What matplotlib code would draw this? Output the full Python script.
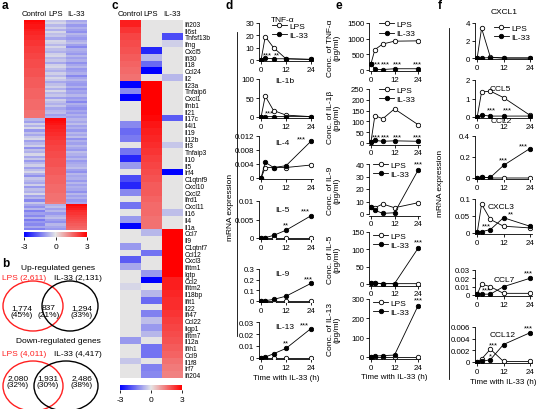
import numpy as np
import matplotlib
matplotlib.use('Agg')
import matplotlib.pyplot as plt
from matplotlib.colors import LinearSegmentedColormap
from matplotlib.patches import Ellipse
from matplotlib.ticker import FuncFormatter

plt.rcParams['font.family'] = ['Liberation Sans', 'DejaVu Sans']
plt.rcParams['axes.unicode_minus'] = False

# ---------------- data ----------------
# panel a: clustered heatmap (rows grouped: control-up, LPS-up, IL-33-up)
a_columns = ['Control', 'LPS', 'IL-33']
a_control = [2.9, 2.8, 2.7, 2.7, 2.6, 2.5, 2.5, 2.4, 2.4, 2.3, 2.3, 2.3, 2.2, 2.2, 2.2,
             2.1, 2.1, 2.1, 2.0, 2.0, 2.0, 2.0, 1.9, 1.9, 1.9, 1.9, 1.8, 1.8, 1.8, 1.8,
             1.8, 1.7, 1.7, 1.7, 1.7, 1.7, 1.6, 1.6, 1.6, 1.6, 1.6, 1.5, 1.5, 1.5, 1.5,
             -0.6, -0.9, -0.3, -0.7, -0.2, -1.0, -0.5, -0.8, -0.4, -0.2, -0.9, -0.6, -0.3, -1.1, -0.5,
             -0.7, -0.2, -0.8, -0.4, -1.0, -0.6, -0.3, -0.9, -0.5, -0.2, -0.7, -1.1, -0.4, -0.6, -0.8,
             -0.3, -1.0, -0.5, -0.7, -0.2, -0.9, -0.6, -1.2, -0.4,
             -0.8, -1.1, -0.6, -1.3, -0.9, -1.2, -0.7, -1.4, -1.0, -1.2, -0.8, -1.3]
a_lps = [-0.4, -0.2, -0.6, -0.3, -0.7, -0.2, -0.5, -0.4, -0.8, -0.2, -0.3, -0.6, -0.2, -0.5, -0.7,
         -0.3, -0.2, -0.6, -0.4, -0.8, -0.3, -0.2, -0.5, -0.7, -0.3, -0.6, -0.2, -0.4, -0.8, -0.5,
         -0.3, -0.7, -0.2, -0.6, -0.4, -0.9, -0.3, -0.5, -0.7, -0.4, -0.8, -0.6, -0.5, -0.9, -0.7,
         2.9, 2.8, 2.7, 2.6, 2.6, 2.5, 2.4, 2.4, 2.3, 2.3, 2.2, 2.2, 2.1, 2.1, 2.1,
         2.0, 2.0, 2.0, 1.9, 1.9, 1.9, 1.9, 1.8, 1.8, 1.8, 1.8, 1.7, 1.7, 1.7, 1.7,
         1.6, 1.6, 1.6, 1.6, 1.5, 1.5, 1.5, 1.5, 1.4,
         -0.7, -0.5, -0.9, -0.6, -1.0, -0.7, -0.5, -0.9, -1.1, -0.6, -0.8, -1.0]
a_il33 = [-0.8, -0.6, -1.0, -0.7, -0.9, -1.1, -0.6, -0.8, -1.0, -0.7, -0.5, -0.9, -1.2, -0.7, -0.8,
          -1.0, -0.6, -0.9, -0.7, -1.1, -0.8, -0.6, -1.0, -0.9, -0.7, -1.2, -0.8, -0.6, -0.9, -1.0,
          -0.7, -1.1, -0.8, -0.9, -0.6, -1.0, -0.8, -1.2, -0.7, -0.9, -1.1, -0.8, -1.0, -0.7, -0.9,
          -0.6, -0.8, -0.5, -0.9, -0.7, -1.0, -0.6, -0.8, -0.5, -1.1, -0.7, -0.9, -0.6, -0.8, -1.0,
          -0.5, -0.7, -0.9, -0.6, -1.0, -0.8, -0.7, -0.5, -0.9, -1.1, -0.6, -0.8, -0.7, -1.0, -0.6,
          -0.9, -0.7, -0.8, -1.1, -0.6, -0.9, -0.7, -1.0, -0.8,
          2.9, 2.7, 2.6, 2.4, 2.3, 2.2, 2.1, 2.0, 1.9, 1.8, 1.7, 1.6]

# panel b: Venn counts
up_totals = [2611, 2131]
up_counts = [1774, 837, 1294]
up_pcts = [45, 21, 33]
down_totals = [4011, 4417]
down_counts = [2080, 1931, 2486]
down_pcts = [32, 30, 38]

# panel c: selected cytokine genes
c_genes = ['Ifi203', 'Il6st', 'Tnfsf13b', 'Ifng', 'Cxcl5', 'Ifi30', 'Il18', 'Ccl24', 'Il2',
           'Il23a', 'Tnfaip6', 'Cxcl1', 'Ifnb1', 'Il21', 'Il17c', 'Il4i1', 'Il19', 'Il12b',
           'Ilf3', 'Tnfaip3', 'Il10', 'Il5', 'Irf4', 'C1qtnf9', 'Cxcl10', 'Cxcl2', 'Ifrd1',
           'Cxcl11', 'Il16', 'Il4', 'Il1a', 'Ccl7', 'Il9', 'C1qtnf7', 'Ccl12', 'Cxcl3',
           'Ifitm1', 'Igtp', 'Ccl2', 'Ifitm2', 'Il18bp', 'Ifit1', 'Il22', 'Ifi47', 'Ccl22',
           'Iigp1', 'Ifitm7', 'Il12a', 'Ifih1', 'Ccl9', 'Il1f8', 'Irf7', 'Ifi204']
c_control = [2.6, 2.3, 2.1, 2.0, 1.9, 1.8, 1.7, 1.6, 1.5,
             -3.0, -1.2, -3.0, 0, 0, 0, -1.2, -1.6, -1.4, 0, -1.5, -2.5, -1.0, 0, -2.0, -2.5,
             -1.2, 0, -1.5, 0, -1.0, -3.0,
             0, 0, -1.0, 0, -1.8, -0.8, 0, 0, -0.2, 0, 0, 0, 0, 0, 0, 0, -1.0, 0, 0, -0.4, 0, 0]
c_lps = [0, 0, 0, 0, -2.5, -0.6, -1.6, -3.0, 0,
         3.0, 3.0, 3.0, 3.0, 3.0, 2.9, 2.7, 2.6, 2.5, 2.4, 2.3, 2.2, 2.1, 2.0, 1.9, 1.8,
         1.8, 1.7, 1.6, 1.6, 1.5, 1.5,
         -0.6, 0, 0, -1.5, 0, 0, -1.0, -3.0, 0, -0.6, -1.6, 0, -1.3, -0.5, -1.0, -0.6, 0,
         -1.5, -1.5, 0, -1.3, -1.2]
c_il33 = [0, 0, -2.0, -0.3, 0, 0, 0, 0, -0.6,
          0, 0, 0, 0, 0, -1.8, 0, 0, 0, -0.4, 0, 0, 0, -3.0, 0, 0, 0, 0, 0, -0.5, 0, 0,
          3.0, 3.0, 3.0, 3.0, 3.0, 3.0, 3.0, 2.6, 2.6, 2.5, 2.4, 2.4, 2.3, 2.2, 2.1, 2.0,
          1.9, 1.8, 1.7, 1.5, 1.4, 1.3]

# panels d-f: time courses (h)
times = [0, 2, 6, 12, 24]

d_tnf_lps = [0, 19, 10, 1, 0.5]
d_tnf_il33 = [0, 1.5, 1, 1, 0.5]
d_il1b_lps = [0, 55, 17, 5, 1]
d_il1b_il33 = [0, 1, 1, 1, 1]
d_il4_lps = [0, 0.003, 0.003, 0.003, 0.0037]
d_il4_il33 = [0, 0.0045, 0.003, 0.0035, 0.0105]
d_il5_lps = [0, 0, 0, 0, 0]
d_il5_il33 = [0, 0.0001, 0.0007, 0.0021, 0.006]
d_il9_lps = [0, 0, 0, 0, 0]
d_il9_il33 = [0, 0.003, 0.015, 0.045, 0.165]
d_il13_lps = [0, 0, 0, 0, 0]
d_il13_il33 = [0, 0.0008, 0.0035, 0.008, 0.0245]

e_tnf_lps = [200, 650, 830, 920, 930]
e_tnf_il33 = [200, 20, 15, 40, 40]
e_il1b_lps = [5, 127, 112, 158, 85]
e_il1b_il33 = [5, 12, 8, 10, 8]
e_il9_lps = [6, 5, 8, 5, 9]
e_il9_il33 = [6, 3, 0.5, 1, 35]
e_il5_lps = [3, 2, 1, 1, 1]
e_il5_il33 = [3, 3, 1, 1, 103]
e_il13_lps = [0, 0, 0, 0, 0]
e_il13_il33 = [2, 5, 7, 10, 265]

f_cxcl1_lps = [0, 3.4, 0.1, 0, 0]
f_cxcl1_il33 = [0, 0, 0.05, 0, 0]
f_ccl5_lps = [0, 1.35, 1.4, 1.05, 0.1]
f_ccl5_il33 = [0, 0.1, 0.05, 0.05, 0.05]
f_ccl2_lps = [0, 0.01, 0, 0, 0]
f_ccl2_il33 = [0, 0.005, 0.005, 0.12, 0.28]
f_cxcl3_lps = [0, 0.085, 0.04, 0.02, 0.015]
f_cxcl3_il33 = [0.002, 0.004, 0.01, 0.045, 0.02]
f_ccl7_lps = [0.001, 0.013, 0.01, 0.002, 0.002]
f_ccl7_il33 = [0.001, 0.001, 0.001, 0.01, 0.02]
f_ccl12_lps = [0, 0.0005, 0.0022, 0.0001, 0.0001]
f_ccl12_il33 = [0, 0.0001, 0.0004, 0.003, 0.005]

# ---------------- figure ----------------
W, H = 536, 410
fig = plt.figure(figsize=(W / 100, H / 100), dpi=100)


def px_axes(x0, y0, x1, y1):
    return fig.add_axes([x0 / W, 1 - y1 / H, (x1 - x0) / W, (y1 - y0) / H])


bg = px_axes(0, 0, W, H)
bg.set_xlim(0, W)
bg.set_ylim(H, 0)
bg.axis('off')

cmap = LinearSegmentedColormap.from_list('bgr', [(0, 0, 1), (0.9, 0.9, 0.9), (1, 0, 0)])


def heatmap(box, cols, cbar_box, labels=None):
    ax = px_axes(*box)
    mat = np.column_stack(cols)
    im = ax.imshow(mat, cmap=cmap, vmin=-3, vmax=3, aspect='auto', interpolation='nearest')
    ax.set_xticks(range(3))
    ax.set_xticklabels(a_columns, fontsize=5.6)
    ax.xaxis.tick_top()
    ax.tick_params(axis='x', length=0, pad=2)
    if labels is None:
        ax.set_yticks([])
    else:
        ax.set_yticks(range(len(labels)))
        ax.set_yticklabels(labels, fontsize=4.8)
        ax.yaxis.tick_right()
        ax.tick_params(axis='y', length=0, pad=2)
    for s in ax.spines.values():
        s.set_visible(False)
    cax = px_axes(*cbar_box)
    cb = fig.colorbar(im, cax=cax, orientation='horizontal', ticks=[-3, 0, 3])
    cb.outline.set_visible(False)
    cax.tick_params(labelsize=6, length=2, width=0.6, pad=2)
    return ax


heatmap((24, 21, 87, 231), [a_control, a_lps, a_il33], (24, 233, 87, 238))
heatmap((120, 21, 182, 379), [c_control, c_lps, c_il33], (120, 386, 182, 391), c_genes)

# panel labels
for lab, x, y in [('a', 2, 0), ('b', 2, 258), ('c', 111, 0), ('d', 226, 0), ('e', 335, 0), ('f', 438, 0)]:
    bg.text(x, y, lab, fontsize=8.5, fontweight='bold', va='top', ha='left')

# panel b venn
red = '#ff2020'
bg.text(58, 269, 'Up-regulated genes', fontsize=6, ha='center', va='center')
bg.text(2, 279, 'LPS ({:,})'.format(up_totals[0]), fontsize=6, color=red, va='center')
bg.text(102, 279, 'IL-33 ({:,})'.format(up_totals[1]), fontsize=6, ha='right', va='center')
bg.add_patch(Ellipse((33, 307), 60, 50, fill=False, ec=red, lw=1))
bg.add_patch(Ellipse((70, 307), 56, 50, fill=False, ec='k', lw=1))
for x, n, p in zip([22, 49, 82], up_counts, up_pcts):
    bg.text(x, 312, '{:,}\n({}%)'.format(n, p), fontsize=6, ha='center', va='center', linespacing=1.1)

bg.text(58, 342, 'Down-regulated genes', fontsize=6, ha='center', va='center')
bg.text(2, 355, 'LPS ({:,})'.format(down_totals[0]), fontsize=6, color=red, va='center')
bg.text(102, 355, 'IL-33 ({:,})'.format(down_totals[1]), fontsize=6, ha='right', va='center')
bg.add_patch(Ellipse((33, 387), 60, 50, fill=False, ec=red, lw=1))
bg.add_patch(Ellipse((66, 387), 64, 50, fill=False, ec='k', lw=1))
for x, n, p in zip([18, 48, 82], down_counts, down_pcts):
    bg.text(x, 382, '{:,}\n({}%)'.format(n, p), fontsize=6, ha='center', va='center', linespacing=1.1)

# brackets and shared labels for d and f
bg.plot([237, 237], [33, 337], color='k', lw=0.6)
bg.text(230, 207, 'mRNA expression', rotation=90, fontsize=6, ha='center', va='center')
bg.plot([449, 449], [29, 380], color='k', lw=0.6)
bg.text(441, 183, 'mRNA expression', rotation=90, fontsize=6, ha='center', va='center')

fmt = FuncFormatter(lambda v, p: '%g' % v)


def line_panel(x0, x1, top, zero, lps, il33, ymax, yticks, title=None, title_xy=None,
               stars=(), legend=None, ylabel=None, xlabel=False):
    bottom = zero + 0.03 * (zero - top)
    ax = px_axes(x0, top, x1, bottom)
    ax.plot(times, lps, '-o', color='k', mfc='white', mec='k', ms=3.2, lw=0.6, mew=0.6,
            label='LPS', zorder=3)
    ax.plot(times, il33, '-o', color='k', mfc='k', mec='k', ms=3.2, lw=0.6, mew=0.6,
            label='IL-33', zorder=3)
    ax.set_xlim(-1, 25)
    ax.set_ylim(-0.03 * ymax, ymax)
    ax.set_xticks([0, 12, 24])
    ax.set_yticks(yticks)
    ax.yaxis.set_major_formatter(fmt)
    ax.spines['top'].set_visible(False)
    ax.spines['right'].set_visible(False)
    ax.spines['left'].set_bounds(0, ymax)
    for s in ('left', 'bottom'):
        ax.spines[s].set_linewidth(0.6)
    ax.tick_params(labelsize=5.7, length=2, width=0.6, pad=1.5)
    ax.patch.set_alpha(0)
    if title:
        ax.text(title_xy[0], title_xy[1], title, transform=ax.transAxes, fontsize=6,
                ha='left', va='center')
    for sx, sy, s in stars:
        ax.text(sx, sy, s, fontsize=5.5, ha='center', va='bottom')
    if legend:
        ax.legend(loc='upper left', bbox_to_anchor=legend, frameon=False, fontsize=6,
                  handlelength=1.8, handletextpad=0.3, labelspacing=0.15, borderpad=0,
                  borderaxespad=0)
    if ylabel:
        ax.set_ylabel(ylabel, fontsize=6, linespacing=1.0)
        ax.yaxis.set_label_coords(-0.55, 0.5)
    if xlabel:
        ax.set_xlabel('Time with IL-33 (h)', fontsize=5.8, labelpad=2)
    return ax


# panel d
dx0, dx1 = 259, 313
line_panel(dx0, dx1, 24, 61, d_tnf_lps, d_tnf_il33, 30, [0, 10, 20, 30], 'TNF-α', (0.22, 1.1),
           [(3, 1.5, '***'), (7.5, 1.5, '**')], legend=(0.24, 1.02))
line_panel(dx0, dx1, 80, 118, d_il1b_lps, d_il1b_il33, 100, [0, 50, 100], 'IL-1b', (0.3, 0.95),
           [(4, 2, '***')])
line_panel(dx0, dx1, 137, 179, d_il4_lps, d_il4_il33, 0.012, [0, 0.004, 0.008, 0.012], 'IL-4',
           (0.3, 0.85), [(19.5, 0.0103, '***')])
line_panel(dx0, dx1, 202, 239, d_il5_lps, d_il5_il33, 0.01, [0, 0.005, 0.01], 'IL-5', (0.3, 0.78),
           [(12, 0.0027, '**'), (21.5, 0.0063, '***')])
line_panel(dx0, dx1, 270, 302, d_il9_lps, d_il9_il33, 0.3, [0, 0.1, 0.2, 0.3], 'IL-9', (0.3, 0.85),
           [(23, 0.175, '***')])
line_panel(dx0, dx1, 323, 359, d_il13_lps, d_il13_il33, 0.03, [0, 0.01, 0.02, 0.03], 'IL-13',
           (0.3, 0.88), [(12, 0.0095, '**'), (21, 0.0245, '***')], xlabel=True)

# panel e
ex0, ex1 = 369, 420
e_stars_x = [3, 7.5, 13.5, 23.5]
line_panel(ex0, ex1, 24, 71, e_tnf_lps, e_tnf_il33, 1500, [0, 500, 1000, 1500],
           stars=[(x, 90, '***') for x in e_stars_x], legend=(0.2, 1.05),
           ylabel='Conc. of TNF-α\n(pg/ml)')
line_panel(ex0, ex1, 90, 144, e_il1b_lps, e_il1b_il33, 250, [0, 50, 100, 150, 200, 250],
           stars=[(x, 14, '***') for x in e_stars_x], legend=(0.2, 1.05),
           ylabel='Conc. of IL-1β\n(pg/ml)')
line_panel(ex0, ex1, 165, 215, e_il9_lps, e_il9_il33, 40, [0, 10, 20, 30, 40],
           stars=[(24, 37, '***')], legend=(0.08, 1.05), ylabel='Conc. of IL-9\n(pg/ml)')
line_panel(ex0, ex1, 233, 285, e_il5_lps, e_il5_il33, 150, [0, 50, 100, 150],
           stars=[(24, 110, '***')], legend=(0.08, 1.0), ylabel='Conc. of IL-5\n(pg/ml)')
line_panel(ex0, ex1, 300, 358, e_il13_lps, e_il13_il33, 300, [0, 100, 200, 300],
           stars=[(24, 275, '***')], legend=(0.08, 1.0), ylabel='Conc. of IL-13\n(pg/ml)',
           xlabel=True)

# panel f
fx0, fx1 = 475, 532
line_panel(fx0, fx1, 24, 59, f_cxcl1_lps, f_cxcl1_il33, 4, [0, 2, 4], 'CXCL1', (0.28, 1.32),
           legend=(0.33, 0.97))
line_panel(fx0, fx1, 81, 118, f_ccl5_lps, f_ccl5_il33, 2, [0, 1, 2], 'CCL5', (0.25, 0.78),
           [(6.5, 0.2, '***'), (14, 0.2, '***')])
line_panel(fx0, fx1, 137, 179, f_ccl2_lps, f_ccl2_il33, 0.4, [0, 0.2, 0.4], 'CCL2', (0.28, 1.35),
           [(12, 0.14, '***'), (21, 0.27, '***')])
line_panel(fx0, fx1, 200, 234, f_cxcl3_lps, f_cxcl3_il33, 0.1, [0, 0.05, 0.1], 'CXCL3', (0.22, 0.78),
           [(4, 0.01, '***'), (15.5, 0.047, '**')])
line_panel(fx0, fx1, 271, 296, f_ccl7_lps, f_ccl7_il33, 0.03, [0, 0.01, 0.02, 0.03], 'CCL7',
           (0.32, 0.64), [(4, 0.002, '***'), (23.5, 0.022, '***')])
line_panel(fx0, fx1, 328, 363, f_ccl12_lps, f_ccl12_il33, 0.006, [0, 0.002, 0.004, 0.006], 'CCL12',
           (0.25, 0.78), [(7.5, 0.0024, '***'), (6, 0.0004, '*'), (23.5, 0.0053, '***')],
           xlabel=True)

fig.savefig('out.png', dpi=100)
